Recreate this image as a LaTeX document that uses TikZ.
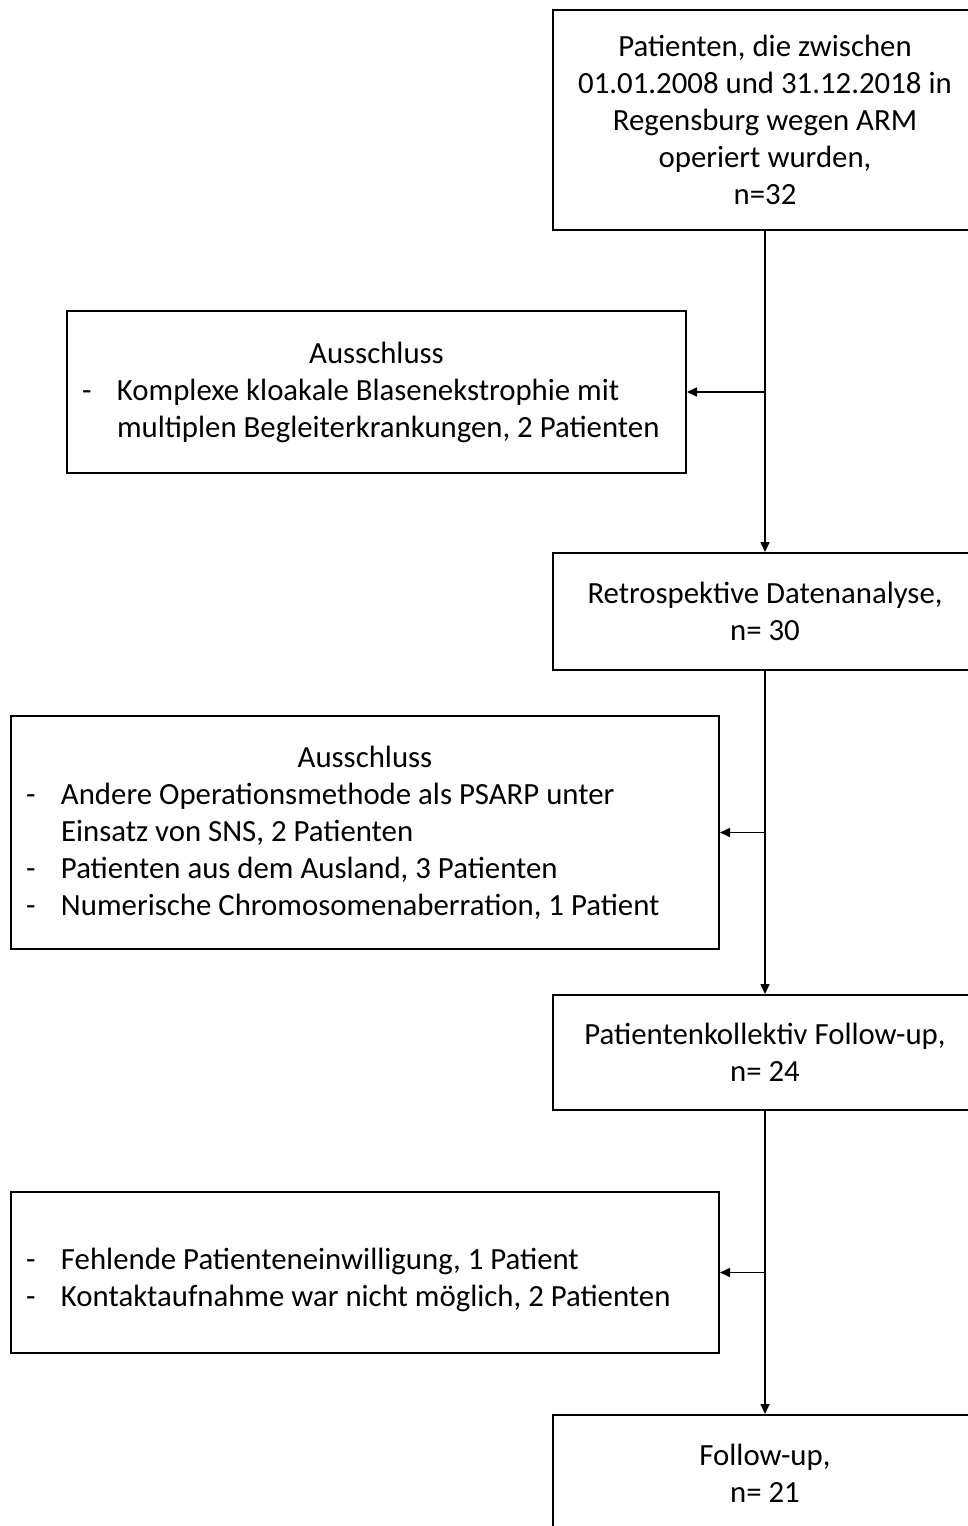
\documentclass[tikz,border=0pt]{standalone}
\usepackage{fontspec}
\setmainfont{Carlito}
\usepackage{tikz}
\usetikzlibrary{arrows.meta,positioning,calc}

\newlength{\ausindent}
\setlength{\ausindent}{25pt}
\newcommand{\ausitem}[1]{\par\hangindent=\ausindent\hangafter=1\noindent\makebox[\ausindent][l]{\hspace{7.5pt}-}#1\par}

\begin{document}
\begin{tikzpicture}[x=0.5pt,y=-0.5pt,
  box/.style={draw,line width=1pt,minimum width=212pt,align=center,inner sep=0pt,
    font=\fontsize{15.4pt}{18.5pt}\selectfont},
  ausbox/.style={draw,line width=1pt,text width=354pt,align=flush left,inner sep=0pt,
    font=\fontsize{15.4pt}{18.5pt}\selectfont},
  pfeil/.style={line width=0.8pt,-{Triangle[length=5pt,width=4.5pt]}}]
\useasboundingbox (0,0) rectangle (968,1526);
\clip (0,0) rectangle (968,1526);

\node[box,minimum height=110pt] (b1) at (765,120) {Patienten, die zwischen\\01.01.2008 und 31.12.2018 in\\Regensburg wegen ARM\\operiert wurden,\\n=32};
\node[box,minimum height=58.5pt] (b2) at (765,611.5) {Retrospektive Datenanalyse,\\n= 30};
\node[box,minimum height=57.5pt] (b3) at (765,1052.5) {Patientenkollektiv Follow-up,\\n= 24};
\node[box,minimum height=58pt] (b4) at (765,1473) {Follow-up,\\n= 21};

\node[ausbox,text width=309.5pt,minimum height=81pt] (a1) at (376.5,392) {{\centering Ausschluss\par}
  \ausitem{Komplexe kloakale Blasenekstrophie mit\newline multiplen Begleiterkrankungen, 2 Patienten}};
\node[ausbox,minimum height=116.5pt] (a2) at (365,832.5) {{\centering Ausschluss\par}
  \ausitem{Andere Operationsmethode als PSARP unter\newline Einsatz von SNS, 2 Patienten}
  \ausitem{Patienten aus dem Ausland, 3 Patienten}
  \ausitem{Numerische Chromosomenaberration, 1 Patient}};
\node[ausbox,minimum height=80.5pt] (a3) at (365,1272.5) {\ausitem{Fehlende Patienteneinwilligung, 1 Patient}
  \ausitem{Kontaktaufnahme war nicht möglich, 2 Patienten}};

\coordinate (k1) at (b1.south |- a1.east);
\coordinate (k2) at (b2.south |- a2.east);
\coordinate (k3) at (b3.south |- a3.east);

\draw[pfeil] (b1) -- (b2);
\draw[pfeil] (b2) -- (b3);
\draw[pfeil] (b3) -- (b4);
\draw[pfeil] (k1) -- (a1);
\draw[pfeil] (k2) -- (a2);
\draw[pfeil] (k3) -- (a3);
\end{tikzpicture}
\end{document}
